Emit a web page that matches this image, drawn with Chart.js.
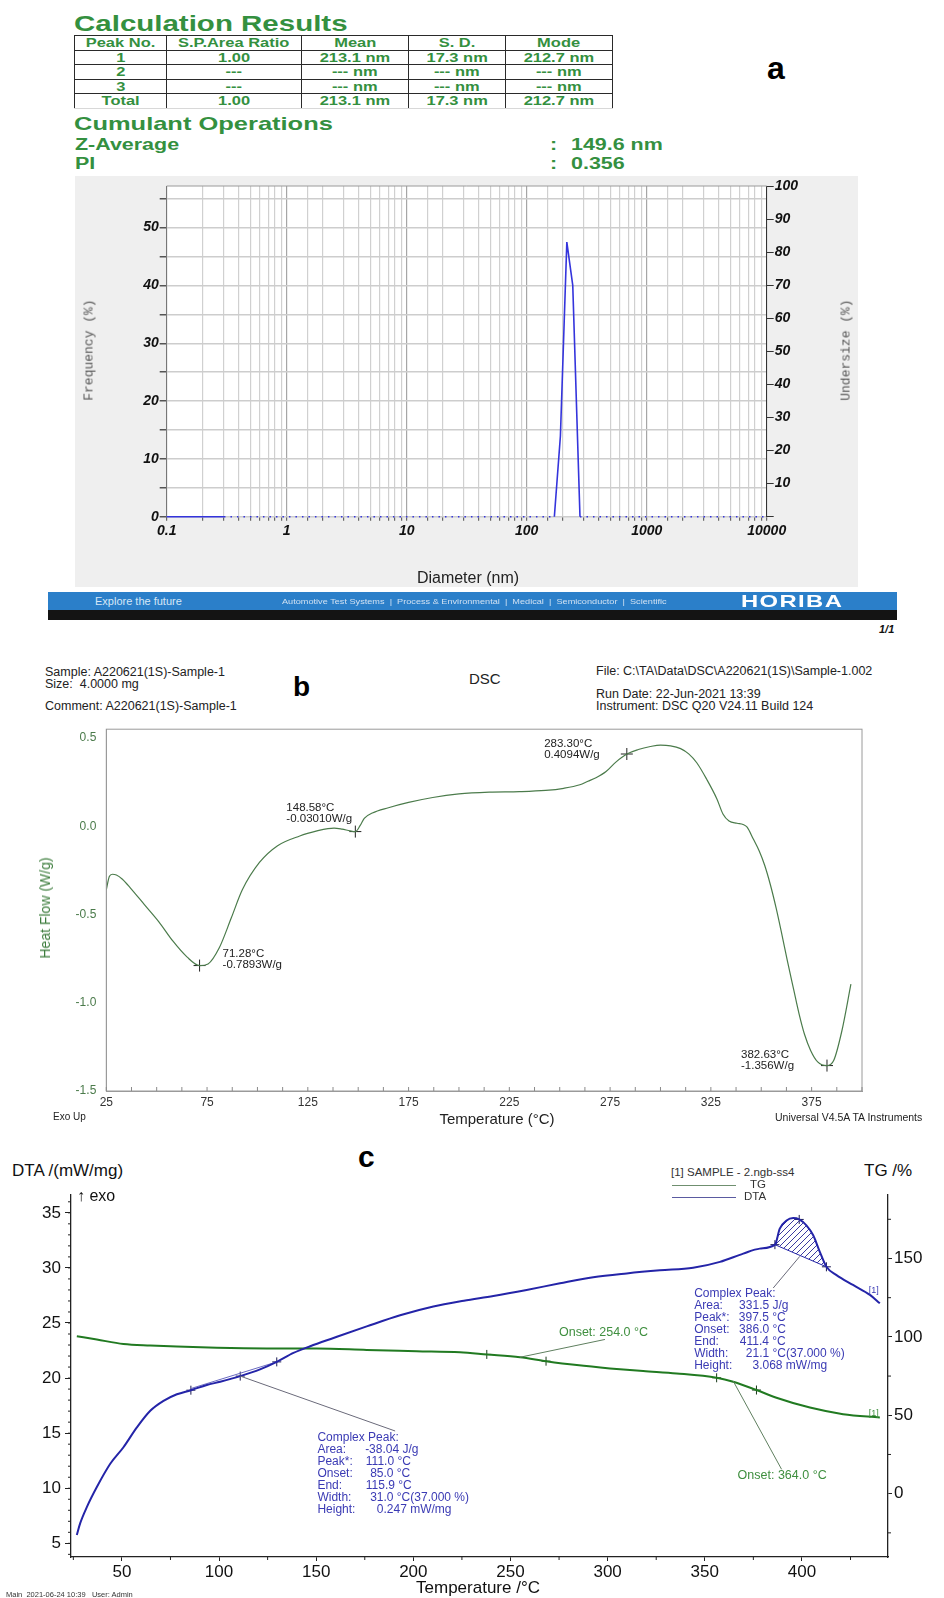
<!DOCTYPE html>
<html>
<head>
<meta charset="utf-8">
<script src="https://cdn.jsdelivr.net/npm/chart.js@4.4.1/dist/chart.umd.min.js"></script>
<style>
  body { margin: 0; background: #fff; width: 944px; height: 1598px; position: relative; overflow: hidden;
         font-family: "Liberation Sans", Arial, sans-serif; }
  .t { position: absolute; white-space: pre; line-height: 1; }
  canvas { position: absolute; }
  #calc { position: absolute; left: 74px; top: 35px; width: 538px; border-collapse: collapse; table-layout: fixed; }
  #calc td { border: 1.5px solid #2a2a2a; height: 13.5px; padding: 0; text-align: center;
             font: bold 13.5px/1 "Liberation Sans", Arial, sans-serif; color: #34903f; }
  #calc td span { display: inline-block; transform: scaleX(1.22); }
  #calc tr:last-child td { border-bottom-color: #d8d8d8; }
  .g { color: #34903f; font-weight: bold; transform: scaleX(1.34); transform-origin: 0 0; }
</style>
</head>
<body>

<!-- panel a -->
<div class="t g" style="left:74px;top:13px;font-size:22px">Calculation Results</div>
<table id="calc"></table>
<div class="t g" style="left:74px;top:114px;font-size:19px">Cumulant Operations</div>
<div id="cumulant"></div>
<div class="t" style="left:767px;top:52px;font:bold 32px 'Liberation Sans';line-height:1">a</div>

<div style="position:absolute;left:75px;top:176px;width:783px;height:411px;background:#efefef"></div>
<canvas id="sizeChart" width="783" height="411" style="left:75px;top:176px"></canvas>
<div class="t" style="left:88.7px;top:350px;font:13px 'Liberation Mono';color:#555;transform:translate(-50%,-50%) rotate(-90deg)">Frequency (%)</div>
<div class="t" style="left:845.7px;top:350px;font:13px 'Liberation Mono';color:#555;transform:translate(-50%,-50%) rotate(-90deg)">Undersize (%)</div>
<div class="t" style="left:468px;top:570px;font-size:16px;color:#222;transform:translateX(-50%)">Diameter (nm)</div>

<div style="position:absolute;left:48px;top:592px;width:849px;height:18px;background:#2b7fc9"></div>
<div style="position:absolute;left:48px;top:610px;width:849px;height:10px;background:#141414"></div>
<div class="t" style="left:95px;top:596px;font-size:11px;color:#d6e7f7">Explore the future</div>
<div class="t" style="left:282px;top:597.5px;font-size:7.5px;color:#cfe0f2;transform:scaleX(1.22);transform-origin:0 0">Automotive Test Systems  |  Process &amp; Environmental  |  Medical  |  Semiconductor  |  Scientific</div>
<div class="t" style="left:741px;top:593px;font-size:17px;font-weight:bold;color:#fff;letter-spacing:1px;transform:scaleX(1.4);transform-origin:0 0">HORIBA</div>
<div class="t" style="left:879px;top:624px;font-size:11px;font-weight:bold;font-style:italic;color:#111">1/1</div>

<!-- panel b -->
<div class="t" style="left:45px;top:666px;font-size:12.5px;color:#222">Sample: A220621(1S)-Sample-1</div>
<div class="t" style="left:45px;top:678px;font-size:12.5px;color:#222">Size:  4.0000 mg</div>
<div class="t" style="left:45px;top:700px;font-size:12.5px;color:#222">Comment: A220621(1S)-Sample-1</div>
<div class="t" style="left:293px;top:673px;font-size:28px;font-weight:bold;color:#000">b</div>
<div class="t" style="left:469px;top:671px;font-size:15px;color:#222">DSC</div>
<div class="t" style="left:596px;top:665px;font-size:12.5px;color:#222">File: C:\TA\Data\DSC\A220621(1S)\Sample-1.002</div>
<div class="t" style="left:596px;top:688px;font-size:12.5px;color:#222">Run Date: 22-Jun-2021 13:39</div>
<div class="t" style="left:596px;top:700px;font-size:12.5px;color:#222">Instrument: DSC Q20 V24.11 Build 124</div>
<canvas id="dscChart" width="944" height="403" style="left:0;top:712px"></canvas>
<div class="t" style="left:45px;top:908px;font-size:14px;color:#3d7d3d;transform:translate(-50%,-50%) rotate(-90deg)">Heat Flow (W/g)</div>
<div class="t" style="left:497px;top:1111px;font-size:15px;color:#222;transform:translateX(-50%)">Temperature (°C)</div>
<div class="t" style="left:53px;top:1112px;font-size:10px;color:#222">Exo Up</div>
<div class="t" style="left:775px;top:1112px;font-size:10.5px;color:#222">Universal V4.5A TA Instruments</div>

<!-- panel c -->
<canvas id="taChart" width="944" height="418" style="left:0;top:1180px"></canvas>
<div class="t" style="left:358px;top:1142px;font-size:30px;font-weight:bold;color:#000">c</div>
<div class="t" style="left:12px;top:1162px;font-size:17px;color:#111">DTA /(mW/mg)</div>
<div class="t" style="left:864px;top:1162px;font-size:17px;color:#111">TG /%</div>
<div class="t" style="left:77px;top:1188px;font-size:16px;color:#111">↑ exo</div>
<div class="t" style="left:671px;top:1167px;font-size:11.5px;color:#333">[1] SAMPLE - 2.ngb-ss4</div>
<div style="position:absolute;left:672px;top:1185px;width:64px;height:1px;background:#6f8f6f"></div>
<div class="t" style="left:750px;top:1179px;font-size:11.5px;color:#333">TG</div>
<div style="position:absolute;left:672px;top:1197px;width:64px;height:1px;background:#5a5aa0"></div>
<div class="t" style="left:744px;top:1191px;font-size:11.5px;color:#333">DTA</div>
<div class="t" style="left:478px;top:1579px;font-size:17px;color:#111;transform:translateX(-50%)">Temperature /°C</div>
<div class="t" style="left:6px;top:1591px;font-size:7.5px;color:#333">Main  2021-06-24 10:39   User: Admin</div>

<script>
// ---------- panel a: particle size distribution ----------
const tableHeader = ['Peak No.', 'S.P.Area Ratio', 'Mean', 'S. D.', 'Mode'];
const tableRows = [
  ['1', '1.00', '213.1 nm', '17.3 nm', '212.7 nm'],
  ['2', '---', '--- nm', '--- nm', '--- nm'],
  ['3', '---', '--- nm', '--- nm', '--- nm'],
  ['Total', '1.00', '213.1 nm', '17.3 nm', '212.7 nm'],
];
const cumulantLabels = ['Z-Average', 'PI'];
const cumulantValues = ['149.6 nm', '0.356'];

const sizeDiameters = [0.1, 0.3, 170, 191, 216, 242, 278, 10000];
const sizeFrequency = [0, 0, 0, 14, 47.5, 40, 0, 0];
const freqTickLabels = [0, 10, 20, 30, 40, 50];
const undersizeTickLabels = [10, 20, 30, 40, 50, 60, 70, 80, 90, 100];

// ---------- panel b: DSC ----------
const dscTemp = [25, 26.5, 28, 30, 33, 37, 44, 51, 58, 65, 71.28, 75.5, 81, 87, 92.5, 101, 110, 121, 130, 135,
  138, 142, 146, 148.58, 151, 153, 157, 165, 175, 187, 200, 215, 230, 243, 252, 260, 264, 268, 273, 278,
  283.3, 289, 295, 300, 305, 310, 314, 318, 323, 328, 331, 334, 338, 341, 343, 346, 349, 351.7, 354.5, 357.4,
  360, 363, 366, 368.8, 371.5, 374.5, 378, 382.63, 386, 390, 394.5];
const dscHeatFlow = [-0.36, -0.285, -0.272, -0.276, -0.30, -0.35, -0.445, -0.54, -0.65, -0.74, -0.7893, -0.78, -0.69, -0.52, -0.36, -0.205, -0.11, -0.055, -0.025, -0.013,
  -0.01, -0.016, -0.026, -0.0301, 0.005, 0.045, 0.075, 0.105, 0.135, 0.163, 0.183, 0.193, 0.196, 0.203, 0.215, 0.235, 0.255, 0.275, 0.31, 0.365,
  0.4094, 0.435, 0.452, 0.46, 0.456, 0.44, 0.41, 0.36, 0.265, 0.155, 0.07, 0.03, 0.017, 0.01, -0.005, -0.071, -0.14, -0.221, -0.33, -0.464,
  -0.60, -0.764, -0.92, -1.064, -1.18, -1.27, -1.335, -1.356, -1.326, -1.16, -0.895];
const dscPeakTemp = [71.28, 148.58, 283.30, 382.63];
const dscPeakFlow = [-0.7893, -0.0301, 0.4094, -1.356];
const dscTempTicks = [25, 75, 125, 175, 225, 275, 325, 375];
const dscFlowTicks = [-1.5, -1.0, -0.5, 0.0, 0.5];

// ---------- panel c: TG / DTA ----------
const dtaTemp = [26.8, 28.5, 32.0, 37.1, 44.0, 50.8, 57.7, 64.6, 71.4, 78.3, 85.5, 93.7, 100.6, 110.9, 121.1, 129.7,
  138.3, 146.9, 158.9, 176.0, 193.2, 210.3, 226.0, 241.2, 258.3, 275.5, 292.6, 309.8, 326.9, 344.0, 357.8, 369.8,
  378.3, 386.1, 388.6, 392.1, 395.5, 398.6, 402.3, 405.8, 409.2, 412.6, 417.8, 426.3, 435.0, 440.1];
const dtaValue = [5.76, 6.81, 8.31, 10.11, 12.22, 13.72, 15.52, 17.03, 17.93, 18.53, 18.90, 19.37, 19.67, 20.18, 20.79, 21.47,
  22.28, 22.89, 23.64, 24.69, 25.70, 26.50, 27.02, 27.45, 28.00, 28.60, 29.15, 29.50, 29.78, 30.01, 30.55, 31.30,
  31.75, 32.11, 33.56, 34.31, 34.52, 34.40, 33.86, 32.96, 31.46, 30.10, 29.35, 28.45, 27.55, 26.79];
const tgTemp = [26.8, 37.1, 50.8, 64.6, 78.3, 98.9, 124.6, 150.3, 176.0, 201.7, 224.0, 237.8, 254.9, 268.3, 284.1,
  301.2, 318.3, 335.5, 356.1, 364.6, 376.6, 386.9, 404.1, 421.2, 440.1];
const tgValue = [100.4, 98.3, 95.5, 94.5, 93.8, 93.0, 92.6, 92.6, 91.7, 90.9, 90.2, 88.8, 87.0, 84.5, 82.0,
  79.9, 78.2, 76.7, 73.9, 71.4, 66.1, 61.2, 54.9, 50.7, 48.6];
const dtaMarkTemp = [85.5, 110.9, 129.7, 386.1, 398.6, 412.6];
const dtaMarkValue = [18.90, 20.18, 21.47, 32.11, 34.40, 30.10];
const tgMarkTemp = [237.8, 268.3, 356.1, 376.6];
const tgMarkValue = [88.8, 84.5, 73.9, 66.1];
const tgOnsetTemp = [254.0, 364.0];
const tgOnsetValue = [87.0, 71.4];
const tgOnsetLabels = ['Onset: 254.0 °C', 'Onset: 364.0 °C'];
const peakLowLines = [['Complex Peak:', ''], ['Area:', '-38.04 J/g'], ['Peak*:', '111.0 °C'], ['Onset:', '85.0 °C'],
  ['End:', '115.9 °C'], ['Width:', '31.0 °C(37.000 %)'], ['Height:', '0.247 mW/mg']];
const peakHighLines = [['Complex Peak:', ''], ['Area:', '331.5 J/g'], ['Peak*:', '397.5 °C'], ['Onset:', '386.0 °C'],
  ['End:', '411.4 °C'], ['Width:', '21.1 °C(37.000 %)'], ['Height:', '3.068 mW/mg']];
const taTempTicks = [50, 100, 150, 200, 250, 300, 350, 400];
const dtaTicks = [5, 10, 15, 20, 25, 30, 35];
const tgTicks = [0, 50, 100, 150];

// ---------- helpers ----------
const FONT = '"Liberation Sans", Arial, sans-serif';
Chart.defaults.font.family = FONT;

const fixedSize = (px) => (scale) => { if (scale.isHorizontal()) scale.height = px; else scale.width = px; };
const setTicks = (values) => (scale) => { scale.ticks = values.map((v) => ({ value: v })); };
const stepValues = (min, max, step) => {
  const out = [];
  for (let v = min; v <= max + 1e-9; v += step) out.push(+v.toFixed(6));
  return out;
};
const xy = (xs, ys) => xs.map((x, i) => ({ x: x, y: ys[i] }));
const isDecade = (v) => Math.abs(Math.log10(v) - Math.round(Math.log10(v))) < 1e-6;

function text(ctx, str, x, y, font, color, align) {
  ctx.save();
  ctx.font = font;
  ctx.fillStyle = color;
  ctx.textAlign = align || 'left';
  ctx.textBaseline = 'middle';
  ctx.fillText(str, x, y);
  ctx.restore();
}
function line(ctx, x1, y1, x2, y2, color, w) {
  ctx.save();
  ctx.strokeStyle = color;
  ctx.lineWidth = w || 1;
  ctx.beginPath();
  ctx.moveTo(x1, y1);
  ctx.lineTo(x2, y2);
  ctx.stroke();
  ctx.restore();
}

// table + cumulant block
const tbl = document.getElementById('calc');
const colWidths = [92, 135, 107, 97, 107];
const cg = document.createElement('colgroup');
colWidths.forEach((w) => { const c = document.createElement('col'); c.style.width = w + 'px'; cg.appendChild(c); });
tbl.appendChild(cg);
[tableHeader, ...tableRows].forEach((row) => {
  const tr = tbl.insertRow();
  row.forEach((cell) => { tr.insertCell().innerHTML = '<span>' + cell + '</span>'; });
});
const cumTops = [137, 155.5];
const cum = document.getElementById('cumulant');
cumulantLabels.forEach((lab, i) => {
  cum.insertAdjacentHTML('beforeend',
    '<div class="t g" style="left:75px;top:' + cumTops[i] + 'px;font-size:16px">' + lab + '</div>' +
    '<div class="t g" style="left:550px;top:' + cumTops[i] + 'px;font-size:16px">:</div>' +
    '<div class="t g" style="left:571px;top:' + cumTops[i] + 'px;font-size:16px">' + cumulantValues[i] + '</div>');
});

// ---------- chart a ----------
const tickFontA = { family: FONT, size: 14, style: 'italic', weight: 'bold' };
new Chart(document.getElementById('sizeChart'), {
  type: 'line',
  data: {
    datasets: [{
      data: xy(sizeDiameters, sizeFrequency),
      borderColor: '#3434dc',
      borderWidth: 1.6,
      pointRadius: 0,
      tension: 0,
      clip: 4,
      segment: {
        borderDash: (c) => (c.p0.parsed.y === 0 && c.p1.parsed.y === 0 && c.p0.parsed.x >= 0.3) ? [1.5, 5] : undefined,
      },
    }],
  },
  options: {
    responsive: false,
    animation: false,
    layout: { padding: { top: 10 } },
    plugins: { legend: { display: false }, tooltip: { enabled: false } },
    scales: {
      x: {
        type: 'logarithmic', min: 0.1, max: 10000,
        afterFit: fixedSize(70.3),
        grid: { color: (c) => (c.tick && isDecade(c.tick.value)) ? '#a6a6a6' : '#d0d0d0', lineWidth: 1.2, tickLength: 4, tickColor: '#666' },
        border: { display: false },
        ticks: { autoSkip: false, maxRotation: 0, padding: 2, color: '#111', font: tickFontA,
                 callback: (v) => isDecade(v) ? String(v) : '' },
      },
      y: {
        min: 0, max: 57.2,
        afterBuildTicks: setTicks(stepValues(0, 55, 5)),
        afterFit: fixedSize(91.7),
        grid: { color: '#cdcdcd', lineWidth: 1.5, tickLength: 7, tickColor: '#555' },
        border: { color: '#777', width: 1 },
        ticks: { padding: 1, color: '#111', font: tickFontA,
                 callback: (v) => freqTickLabels.includes(v) ? String(v) : '' },
      },
      y2: {
        position: 'right', min: 0, max: 100,
        afterBuildTicks: setTicks(stepValues(0, 100, 5)),
        afterFit: fixedSize(91.3),
        grid: { drawOnChartArea: false, tickLength: 7, tickColor: '#333' },
        border: { color: '#333', width: 1 },
        ticks: { padding: 1, color: '#111', font: tickFontA,
                 callback: (v) => undersizeTickLabels.includes(v) ? String(v) : '' },
      },
    },
  },
  plugins: [{
    id: 'whiteArea',
    beforeDraw(chart) {
      const a = chart.chartArea;
      chart.ctx.fillStyle = '#fff';
      chart.ctx.fillRect(a.left, a.top, a.right - a.left, a.bottom - a.top);
    },
    afterDraw(chart) {
      const a = chart.chartArea;
      line(chart.ctx, a.left, a.top, a.right, a.top, '#9a9a9a', 1);
    },
  }],
});

// ---------- chart b ----------
const dscLabelLayout = [[23, -11.7, -0.7], [-69, -23.7, -12.7], [-82.7, -10.3, 0.7], [-86, -10.7, 0.3]];
new Chart(document.getElementById('dscChart'), {
  type: 'line',
  data: {
    datasets: [
      { data: xy(dscTemp, dscHeatFlow), borderColor: '#4b7b4b', borderWidth: 1.2, pointRadius: 0,
        cubicInterpolationMode: 'monotone' },
      { data: xy(dscPeakTemp, dscPeakFlow), showLine: false, pointStyle: 'cross', pointRadius: 6,
        pointBorderWidth: 1, borderColor: '#222', backgroundColor: '#222' },
    ],
  },
  options: {
    responsive: false,
    animation: false,
    layout: { padding: { top: 14, right: 82 } },
    plugins: { legend: { display: false }, tooltip: { enabled: false } },
    scales: {
      x: {
        type: 'linear', min: 25, max: 400,
        afterBuildTicks: setTicks(dscTempTicks),
        afterFit: fixedSize(24),
        grid: { drawOnChartArea: false, drawTicks: false },
        border: { color: '#9a9a9a' },
        ticks: { padding: 4, color: '#333', font: { size: 12 } },
      },
      y: {
        min: -1.5, max: 0.55,
        afterBuildTicks: setTicks(dscFlowTicks),
        afterFit: fixedSize(106.3),
        grid: { drawOnChartArea: false, drawTicks: false },
        border: { color: '#9a9a9a' },
        ticks: { padding: 10, color: '#4b7b4b', font: { size: 12 }, callback: (v) => v.toFixed(1) },
      },
    },
  },
  plugins: [{
    id: 'dscNotes',
    afterDatasetsDraw(chart) {
      const { ctx, chartArea: a, scales: { x, y } } = chart;
      ctx.save();
      ctx.strokeStyle = '#9a9a9a';
      ctx.lineWidth = 1;
      ctx.strokeRect(a.left, a.top, a.right - a.left, a.bottom - a.top);
      ctx.restore();
      for (let v = 25; v <= 400; v += 12.5) {
        const px = x.getPixelForValue(v);
        line(ctx, px, a.bottom, px, a.bottom - 4, '#8a8a8a', 1);
      }
      dscPeakTemp.forEach((t, i) => {
        const px = x.getPixelForValue(t);
        const py = y.getPixelForValue(dscPeakFlow[i]);
        const o = dscLabelLayout[i];
        const f = '11.5px ' + FONT;
        text(ctx, t.toFixed(2) + '°C', px + o[0], py + o[1], f, '#222');
        text(ctx, dscPeakFlow[i].toPrecision(4) + 'W/g', px + o[0], py + o[2], f, '#222');
      });
    },
  }],
});

// ---------- chart c ----------
function hatch(color) {
  const c = document.createElement('canvas');
  c.width = 6; c.height = 6;
  const g = c.getContext('2d');
  g.strokeStyle = color;
  g.lineWidth = 1;
  g.beginPath();
  g.moveTo(0, 6); g.lineTo(6, 0);
  g.moveTo(-1, 1); g.lineTo(1, -1);
  g.moveTo(5, 7); g.lineTo(7, 5);
  g.stroke();
  return g.createPattern(c, 'repeat');
}
const DTA_BLUE = '#2424a8';
const TG_GREEN = '#217a21';
const hiStart = dtaMarkTemp[3], hiEnd = dtaMarkTemp[5];
const peakFill = xy(dtaTemp, dtaValue).filter((p) => p.x >= hiStart && p.x <= hiEnd);

const peakLayout = [
  { lines: peakLowLines, mark: 1, dx: 77.2, dy: 61.6, step: 12,
    vdx: [0, 47.7, 48.4, 52.7, 48.4, 52.7, 59.4], lead: [[0, 0], [154.9, 54.9]] },
  { lines: peakHighLines, mark: 4, dx: -105, dy: 74.3, step: 11.95,
    vdx: [0, 44.9, 44.6, 44.9, 45.6, 51.6, 58.3], lead: [[0.6, 36.9], [-26, 68.6]] },
];
const onsetLayout = [
  { dx: 40.7, dy: -25.1, lead: [[1.7, 0], [86.7, -17.8]] },
  { dx: 5.6, dy: 94.3, lead: [[1.2, -0.7], [49.6, 87.6]] },
];

new Chart(document.getElementById('taChart'), {
  type: 'line',
  data: {
    datasets: [
      { data: xy(dtaTemp, dtaValue), yAxisID: 'y', borderColor: DTA_BLUE, borderWidth: 2, pointRadius: 0,
        cubicInterpolationMode: 'monotone' },
      { data: xy(tgTemp, tgValue), yAxisID: 'y2', borderColor: TG_GREEN, borderWidth: 2, pointRadius: 0,
        cubicInterpolationMode: 'monotone' },
      { data: peakFill, yAxisID: 'y', borderWidth: 0, pointRadius: 0, cubicInterpolationMode: 'monotone',
        fill: 3, backgroundColor: hatch('#3a3aa0') },
      { data: [{ x: hiStart, y: dtaMarkValue[3] }, { x: hiEnd, y: dtaMarkValue[5] }], yAxisID: 'y',
        borderColor: DTA_BLUE, borderWidth: 1, pointRadius: 0 },
      { data: [{ x: dtaMarkTemp[0], y: dtaMarkValue[0] + 0.15 }, { x: dtaMarkTemp[2], y: dtaMarkValue[2] }], yAxisID: 'y',
        borderColor: '#6a6ac0', borderWidth: 1, pointRadius: 0 },
      { data: xy(dtaMarkTemp, dtaMarkValue), yAxisID: 'y', showLine: false, pointStyle: 'cross', pointRadius: 4.5,
        pointBorderWidth: 1, borderColor: '#1a1a50' },
      { data: xy(tgMarkTemp, tgMarkValue), yAxisID: 'y2', showLine: false, pointStyle: 'cross', pointRadius: 4.5,
        pointBorderWidth: 1, borderColor: '#1a3a1a' },
    ],
  },
  options: {
    responsive: false,
    animation: false,
    layout: { padding: { top: 12 } },
    plugins: { legend: { display: false }, tooltip: { enabled: false } },
    scales: {
      x: {
        type: 'linear', min: 23.8, max: 444.3,
        afterBuildTicks: setTicks(taTempTicks),
        afterFit: fixedSize(41),
        grid: { drawOnChartArea: false, tickLength: 4, tickColor: '#222' },
        border: { color: '#222', width: 1.3 },
        ticks: { padding: 1, color: '#111', font: { size: 17 } },
      },
      y: {
        position: 'left', min: 3.76, max: 36.69,
        afterBuildTicks: setTicks(dtaTicks),
        afterFit: fixedSize(71),
        grid: { drawOnChartArea: false, tickLength: 6, tickColor: '#222' },
        border: { color: '#222', width: 1.3 },
        ticks: { padding: 4, color: '#111', font: { size: 17 } },
      },
      y2: {
        position: 'right', min: -40.4, max: 191,
        afterBuildTicks: setTicks(tgTicks),
        afterFit: fixedSize(56),
        grid: { drawOnChartArea: false, tickLength: 4, tickColor: '#222' },
        border: { color: '#222', width: 1.3 },
        ticks: { padding: 2, color: '#111', font: { size: 17 } },
      },
    },
  },
  plugins: [{
    id: 'taNotes',
    afterDatasetsDraw(chart) {
      const { ctx, chartArea: a, scales: { x, y, y2 } } = chart;
      // minor ticks
      for (let v = 4; v <= 36; v += 1) {
        const py = y.getPixelForValue(v);
        line(ctx, a.left, py, a.left - 3, py, '#222', 1);
      }
      for (let v = 25; v <= 425; v += 50) {
        const px = x.getPixelForValue(v);
        line(ctx, px, a.bottom, px, a.bottom + 3, '#222', 1);
      }
      for (let v = -25; v <= 175; v += 50) {
        const py = y2.getPixelForValue(v);
        line(ctx, a.right, py, a.right + 3, py, '#222', 1);
      }
      // complex peak blocks
      const f = '12px ' + FONT;
      peakLayout.forEach((p) => {
        const px = x.getPixelForValue(dtaMarkTemp[p.mark]);
        const py = y.getPixelForValue(dtaMarkValue[p.mark]);
        line(ctx, px + p.lead[0][0], py + p.lead[0][1], px + p.lead[1][0], py + p.lead[1][1], '#6a6a7a', 1);
        p.lines.forEach((ln, i) => {
          const ty = py + p.dy + i * p.step;
          text(ctx, ln[0], px + p.dx, ty, f, '#3a3ab4');
          if (ln[1]) text(ctx, ln[1], px + p.dx + p.vdx[i], ty, f, '#3a3ab4');
        });
      });
      // TG onset labels
      tgOnsetTemp.forEach((t, i) => {
        const o = onsetLayout[i];
        const px = x.getPixelForValue(t);
        const py = y2.getPixelForValue(tgOnsetValue[i]);
        line(ctx, px + o.lead[0][0], py + o.lead[0][1], px + o.lead[1][0], py + o.lead[1][1], '#5f7f5f', 1);
        text(ctx, tgOnsetLabels[i], px + o.dx, py + o.dy, '12.5px ' + FONT, '#3f8f3f');
      });
      // curve end tags
      const dEnd = dtaTemp.length - 1, gEnd = tgTemp.length - 1;
      text(ctx, '[1]', x.getPixelForValue(dtaTemp[dEnd]) - 6, y.getPixelForValue(dtaValue[dEnd]) - 12.5, '9px ' + FONT, '#3a3ab4', 'center');
      text(ctx, '[1]', x.getPixelForValue(tgTemp[gEnd]) - 6, y2.getPixelForValue(tgValue[gEnd]) - 4, '9px ' + FONT, '#3f8f3f', 'center');
    },
  }],
});
</script>
</body>
</html>
